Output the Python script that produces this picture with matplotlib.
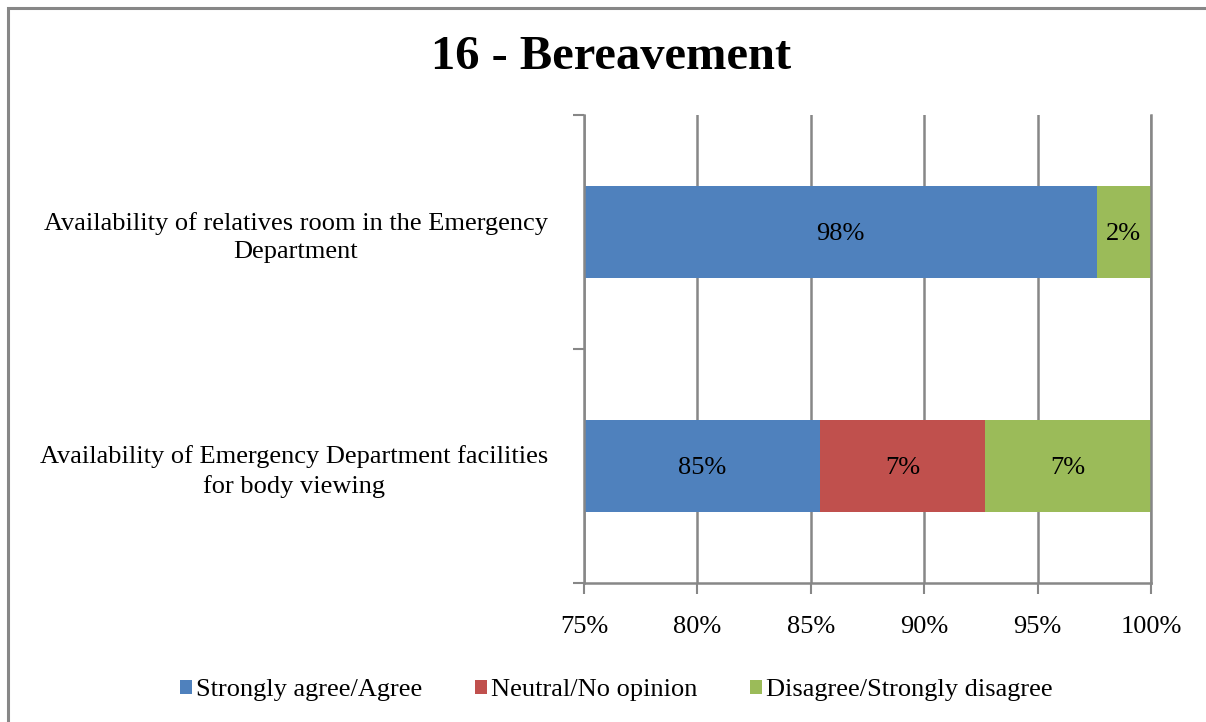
import matplotlib
matplotlib.use("Agg")
import matplotlib.pyplot as plt
from matplotlib.patches import Rectangle, Patch

plt.rcParams['font.family'] = ['Liberation Serif', 'DejaVu Serif']

categories = ["Availability of Emergency Department facilities\nfor body viewing",
              "Availability of relatives room in the Emergency\nDepartment"]
series_names = ["Strongly agree/Agree", "Neutral/No opinion", "Disagree/Strongly disagree"]
agree = [85.4, 97.6]
neutral = [7.3, 0.0]
disagree = [7.3, 2.4]
xticks = [75, 80, 85, 90, 95, 100]
xtick_labels = ["75%", "80%", "85%", "90%", "95%", "100%"]
colors = ["#4F81BD", "#C0504D", "#9BBB59"]

W, H = 1206, 722
fig = plt.figure(figsize=(W/100, H/100), dpi=100)
ax = fig.add_axes([584/W, 1-583/H, (1151-584)/W, (583-115)/H])

xmin, xmax = 75, 100
ypos = list(range(len(categories)))
series = [agree, neutral, disagree]
lefts = [0.0]*len(categories)
for vals, col in zip(series, colors):
    ax.barh(ypos, vals, left=lefts, height=0.39, color=col, zorder=3)
    for i, (l, v) in enumerate(zip(lefts, vals)):
        if v > 0:
            vis_l = max(l, xmin)
            cx = (vis_l + l + v) / 2
            ax.text(cx, ypos[i] - 0.01, f"{round(v)}%", ha='center', va='center',
                    fontsize=19, color='black', zorder=4)
    lefts = [l + v for l, v in zip(lefts, vals)]

ax.set_xlim(xmin, xmax)
ax.set_ylim(-0.5, len(categories)-0.5)
ax.set_xticks(xticks)
ax.set_xticklabels(xtick_labels, fontsize=19)
ax.set_yticks([-0.5, 0.5, 1.5])
ax.set_yticklabels([])
ax.set_yticks(ypos, minor=True)
ax.set_yticklabels(categories, minor=True, fontsize=19)
for t in ax.get_yticklabels(minor=True):
    t.set_multialignment('center')
    t.set_linespacing(1.35)
ax.tick_params(axis='y', which='minor', length=0, pad=26)
ax.tick_params(axis='y', which='major', length=8, width=1.5, color='#878787', direction='out')
ax.tick_params(axis='x', length=8, width=1.5, color='#878787', direction='out', pad=16)
ax.grid(axis='x', color='#878787', linewidth=1.8, zorder=0)
ax.spines['top'].set_visible(False)
for s in ['left', 'bottom', 'right']:
    ax.spines[s].set_color('#878787')
    ax.spines[s].set_linewidth(1.8)
    ax.spines[s].set_zorder(5)

fig.text(611/W, 1-57/H, "16 - Bereavement", ha='center', va='center',
         fontsize=35, fontweight='bold')

handles = [Patch(facecolor=c, edgecolor='none') for c in colors]
fig.legend(handles, series_names, loc='center', bbox_to_anchor=(616/W, 1-690/H),
           ncol=3, frameon=False, fontsize=19, handlelength=0.45, handleheight=0.45,
           handletextpad=0.15, columnspacing=2.0)

fig.patches.append(Rectangle((8/W, -0.1), 1.2, 1.1 - 8/H, transform=fig.transFigure,
                             fill=False, edgecolor='#878787', linewidth=2.2))

fig.savefig("out.png", dpi=100)
